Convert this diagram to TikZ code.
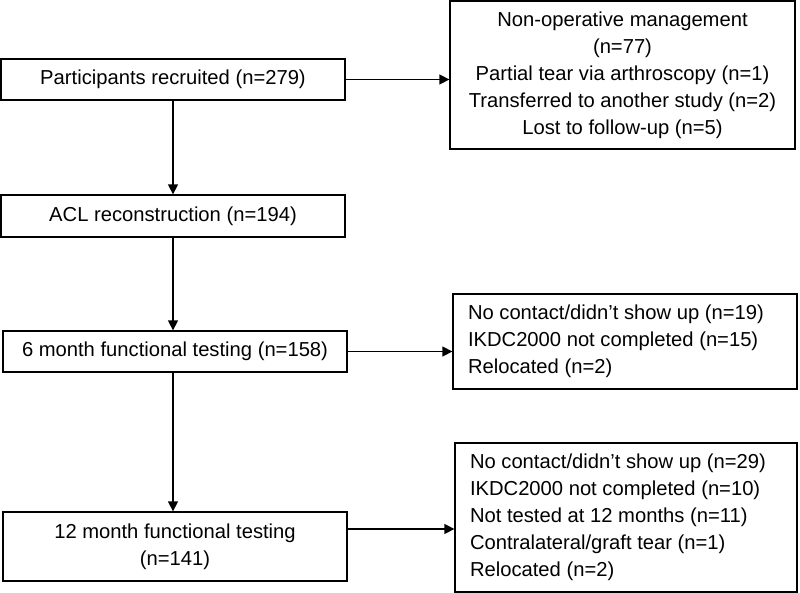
\documentclass[tikz,border=0pt]{standalone}
\usepackage{fontspec}
\setmainfont{Liberation Sans}
\usetikzlibrary{arrows.meta,calc}
\begin{document}
\begin{tikzpicture}[x=1pt,y=-1pt,
  box/.style={draw=black,line width=1.3pt,inner sep=0pt,font=\fontsize{20.2}{27}\selectfont},
  lbox/.style={box,align=center},
  conn/.style={line width=1.4pt,-{Triangle[length=10pt,width=10pt]}}]
\useasboundingbox (0,0) rectangle (800,593);
\node[lbox,minimum width=344pt,minimum height=41pt] (b1) at (173,79.5) {Participants recruited (n=279)};
\node[lbox,minimum width=344pt,minimum height=42pt] (b2) at (173,216) {ACL reconstruction (n=194)};
\node[lbox,minimum width=344pt,minimum height=41pt] (b3) at (175,351.5) {6 month functional testing (n=158)};
\node[lbox,minimum width=344pt,minimum height=69pt] (b4) at (175,546.5) {12 month functional testing\\(n=141)};
\node[lbox,minimum width=345pt,minimum height=148pt] (r1) at (622.5,75) {Non-operative management\\(n=77)\\Partial tear via arthroscopy (n=1)\\Transferred to another study (n=2)\\Lost to follow-up (n=5)};
\node[box,minimum width=344pt,minimum height=95pt,align=left] (r2) at (625,341.5) {\makebox[314pt][l]{No contact/didn\char"0027 t show up (n=19)}\\IKDC2000 not completed (n=15)\\Relocated (n=2)};
\node[box,minimum width=342pt,minimum height=149pt,align=left] (r3) at (626,517.5) {\makebox[312pt][l]{No contact/didn\char"0027 t show up (n=29)}\\IKDC2000 not completed (n=10)\\Not tested at 12 months (n=11)\\Contralateral/graft tear (n=1)\\Relocated (n=2)};
\draw[conn] (b1) -- (b2);
\draw[conn] (b2.south) -- (b3.north -| b2.south);
\draw[conn] (b3.south -| b2.south) -- (b4.north -| b2.south);
\draw[conn] (b1.east) -- (r1.west |- b1.east);
\draw[conn] (b3.east) -- (r2.west |- b3.east);
\coordinate (a4) at ([yshift=17.5pt]b4.east);
\draw[conn] (a4) -- (r3.west |- a4);
\end{tikzpicture}
\end{document}
